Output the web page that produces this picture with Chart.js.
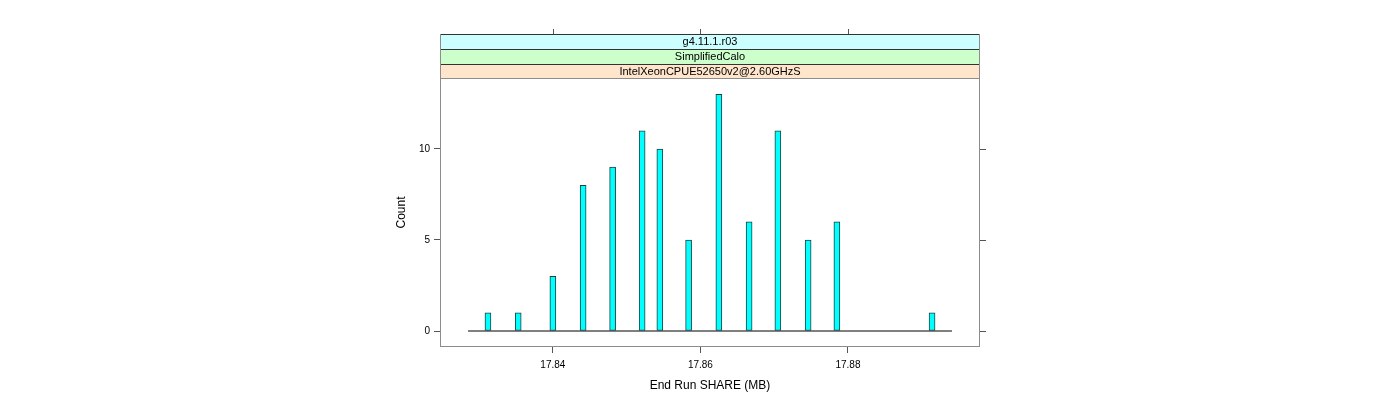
<!DOCTYPE html>
<html><head><meta charset="utf-8">
<script src="https://cdn.jsdelivr.net/npm/chart.js@4/dist/chart.umd.min.js"></script>
<style>html,body{margin:0;padding:0;background:#fff}#wrap{width:1400px;height:400px}</style>
</head><body><div id="wrap"><canvas id="c" width="1400" height="400"></canvas></div>
<script>
const shareMB = [17.8312, 17.8353, 17.8400, 17.8441, 17.8481, 17.8521, 17.8545, 17.8584, 17.8625, 17.8666, 17.8705, 17.8746, 17.8785, 17.8914];
const counts  = [1, 1, 3, 8, 9, 11, 10, 5, 13, 6, 11, 5, 6, 1];
const baselineX = [17.8285, 17.8941];
const xTicks = [17.84, 17.86, 17.88];
const yTicks = [0, 5, 10];
const strips = ["g4.11.1.r03", "SimplifiedCalo", "IntelXeonCPUE52650v2@2.60GHzS"];
const stripColors = ["#CCFFFF", "#CCFFCC", "#FFE5CC"];

const FONT = "'Liberation Sans', Arial, sans-serif";

const latticePlugin = {
  id: 'lattice',
  afterDraw(chart) {
    const ctx = chart.ctx, a = chart.chartArea;
    const xs = chart.scales.x, ys = chart.scales.y;
    ctx.save();
    ctx.strokeStyle = '#8c8c8c';
    ctx.lineWidth = 1;
    ctx.strokeRect(a.left + 0.5, a.top + 0.5, a.right - a.left - 1, a.bottom - a.top - 1);
    const h = 15;
    const tops = [a.top - 3*h + 1, a.top - 2*h + 1, a.top - h + 1];
    for (let i = 0; i < strips.length; i++) {
      const t = tops[i];
      const hh = (i === 2) ? 14 : 15;
      ctx.fillStyle = stripColors[i];
      ctx.fillRect(a.left, t, a.right - a.left, hh);
    }
    ctx.strokeStyle = '#333';
    for (let i = 0; i < strips.length; i++) {
      const t = tops[i];
      ctx.beginPath();
      ctx.moveTo(a.left, t + 0.5); ctx.lineTo(a.right, t + 0.5);
      ctx.stroke();
    }
    ctx.strokeStyle = '#8c8c8c';
    ctx.beginPath();
    ctx.moveTo(a.left + 0.5, tops[0]); ctx.lineTo(a.left + 0.5, a.top);
    ctx.moveTo(a.right - 0.5, tops[0]); ctx.lineTo(a.right - 0.5, a.top);
    ctx.stroke();
    ctx.fillStyle = '#000';
    ctx.font = '11px ' + FONT;
    ctx.textAlign = 'center'; ctx.textBaseline = 'middle';
    for (let i = 0; i < strips.length; i++) {
      ctx.fillText(strips[i], (a.left + a.right) / 2, tops[i] + 7.5);
    }
    ctx.strokeStyle = '#555';
    ctx.beginPath();
    for (const v of xTicks) {
      const px = Math.round(xs.getPixelForValue(v)) + 0.5;
      ctx.moveTo(px, tops[0]); ctx.lineTo(px, tops[0] - 5);
    }
    for (const v of yTicks) {
      const py = Math.round(ys.getPixelForValue(v)) + 0.5;
      ctx.moveTo(a.right, py); ctx.lineTo(a.right + 6, py);
    }
    ctx.stroke();
    ctx.restore();
  }
};

new Chart(document.getElementById('c'), {
  type: 'bar',
  data: {
    datasets: [
      {
        type: 'line',
        data: baselineX.map(x => ({x: x, y: 0})),
        borderColor: '#000', borderWidth: 1, pointRadius: 0, order: 2
      },
      {
        type: 'bar',
        data: shareMB.map((x, i) => ({x: x, y: counts[i]})),
        backgroundColor: '#00FFFF', borderColor: '#1f3f3f', borderWidth: 1,
        barThickness: 6, borderSkipped: false, order: 1
      }
    ]
  },
  options: {
    responsive: false, animation: false,
    layout: { padding: { left: 380, right: 420, top: 78, bottom: 3 } },
    plugins: { legend: { display: false }, tooltip: { enabled: false } },
    scales: {
      x: {
        type: 'linear', min: 17.8247, max: 17.8979, offset: false,
        afterBuildTicks: s => { s.ticks = xTicks.map(v => ({value: v})); },
        afterFit: s => { s.height = 50; },
        grid: { drawOnChartArea: false, drawTicks: true, tickLength: 6, color: '#555', offset: false },
        border: { display: false },
        ticks: { font: { size: 10, family: FONT }, color: '#000', padding: 6, maxRotation: 0,
                 callback: v => v.toFixed(2) },
        title: { display: true, text: 'End Run SHARE (MB)', font: { size: 12, family: FONT }, color: '#000', padding: { top: 0 } }
      },
      y: {
        type: 'linear', min: -0.879, max: 13.9,
        afterBuildTicks: s => { s.ticks = yTicks.map(v => ({value: v})); },
        afterFit: s => { s.width = 60; },
        grid: { drawOnChartArea: false, drawTicks: true, tickLength: 6, color: '#555' },
        border: { display: false },
        ticks: { font: { size: 10, family: FONT }, color: '#000', padding: 4 },
        title: { display: true, text: 'Count', font: { size: 12, family: FONT }, color: '#000', padding: { top: 14 } }
      }
    }
  },
  plugins: [latticePlugin]
});
</script></body></html>
